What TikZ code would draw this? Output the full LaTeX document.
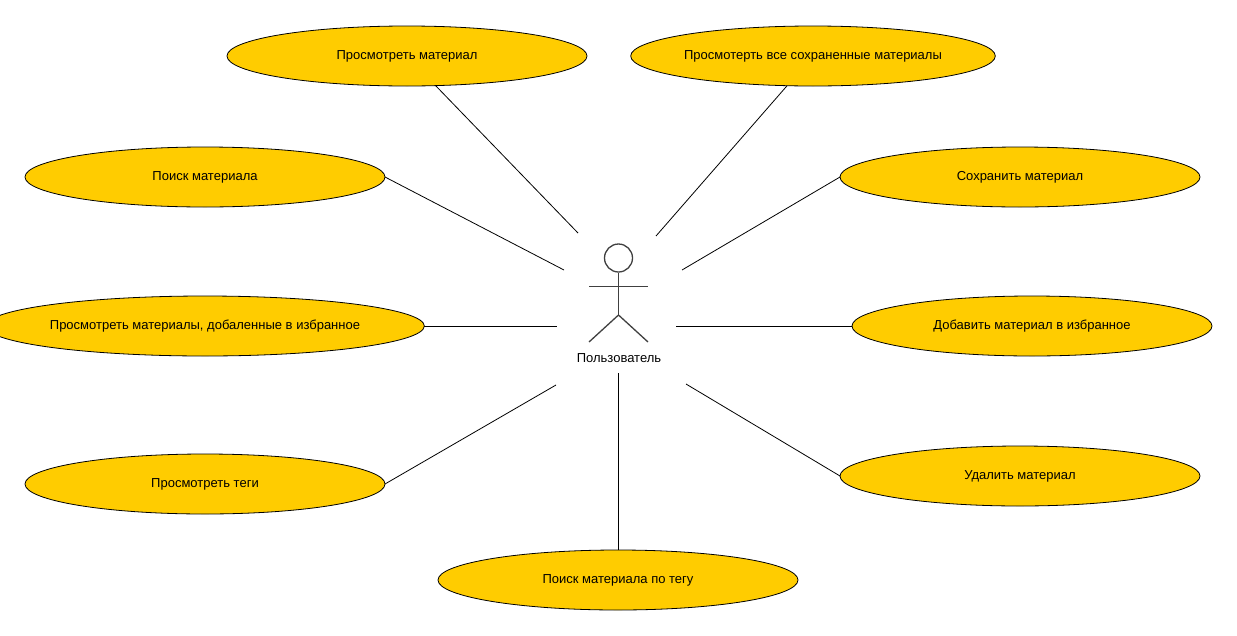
\documentclass[tikz,border=0pt]{standalone}
\usepackage{fontspec}
\setmainfont{Liberation Sans}
\usetikzlibrary{shapes.geometric}
\definecolor{usecasefill}{HTML}{FFCC00}
\definecolor{actorline}{HTML}{404040}
\tikzset{
  usecase/.style={ellipse, draw, fill=usecasefill, line width=0.8pt, inner sep=0pt, outer sep=0pt, minimum width=360pt, minimum height=60pt, font=\fontsize{13}{15}\selectfont},
  actor/.style={draw=actorline, line width=1.3pt},
  link/.style={draw, line width=0.8pt}
}
\begin{document}
\begin{tikzpicture}[x=1pt, y=-1pt]
  \useasboundingbox (0, 0) rectangle (1237, 635);
  % Nodes
  \node (view) [usecase] at (407, 56) {Просмотреть материал};
  \node (saved) [usecase] at (813, 56) {Просмотерть все сохраненные материалы};
  \node (search) [usecase] at (205, 177) {Поиск материала};
  \node (save) [usecase] at (1020, 177) {Сохранить материал};
  \node (favs) [usecase] at (205, 326) {Просмотреть материалы, добаленные в избранное};
  \node (addfav) [usecase] at (1032, 326) {Добавить материал в избранное};
  \node (tags) [usecase] at (205, 484) {Просмотреть теги};
  \node (delete) [usecase] at (1020, 476) {Удалить материал};
  \node (bytag) [usecase] at (618, 580) {Поиск материала по тегу};
  % Actor
  \node (head) [circle, actor, inner sep=0pt, minimum size=28pt] at (618.5, 258) {};
  \coordinate (hip) at (618.5, 315);
  \coordinate (handl) at (589, 286);
  \coordinate (handr) at (648, 286);
  \coordinate (footl) at (589, 342);
  \coordinate (footr) at (648, 342);
  \draw[actor] (head.south) -- (hip);
  \draw[actor, line width=1pt] (handl) -- (handr);
  \draw[actor] (footl) -- (hip) -- (footr);
  \node (user) [font=\fontsize{13}{15}\selectfont, inner sep=0pt] at (619, 358) {Пользователь};
  % Link ends
  \coordinate (eview) at (578, 233);
  \coordinate (esaved) at (656, 236);
  \coordinate (esearch) at (564, 270);
  \coordinate (esave) at (682, 270);
  \coordinate (efavs) at (557, 326);
  \coordinate (eaddfav) at (676, 326);
  \coordinate (etags) at (556, 385);
  \coordinate (edelete) at (686, 384);
  \coordinate (ebytag) at (618, 373);
  % Links
  \draw[link] (view) -- (eview);
  \draw[link] (saved) -- (esaved);
  \draw[link] (search.east) -- (esearch);
  \draw[link] (save.west) -- (esave);
  \draw[link] (favs.east) -- (efavs);
  \draw[link] (addfav.west) -- (eaddfav);
  \draw[link] (tags.east) -- (etags);
  \draw[link] (delete.west) -- (edelete);
  \draw[link] (bytag.north) -- (ebytag);
\end{tikzpicture}
\end{document}
